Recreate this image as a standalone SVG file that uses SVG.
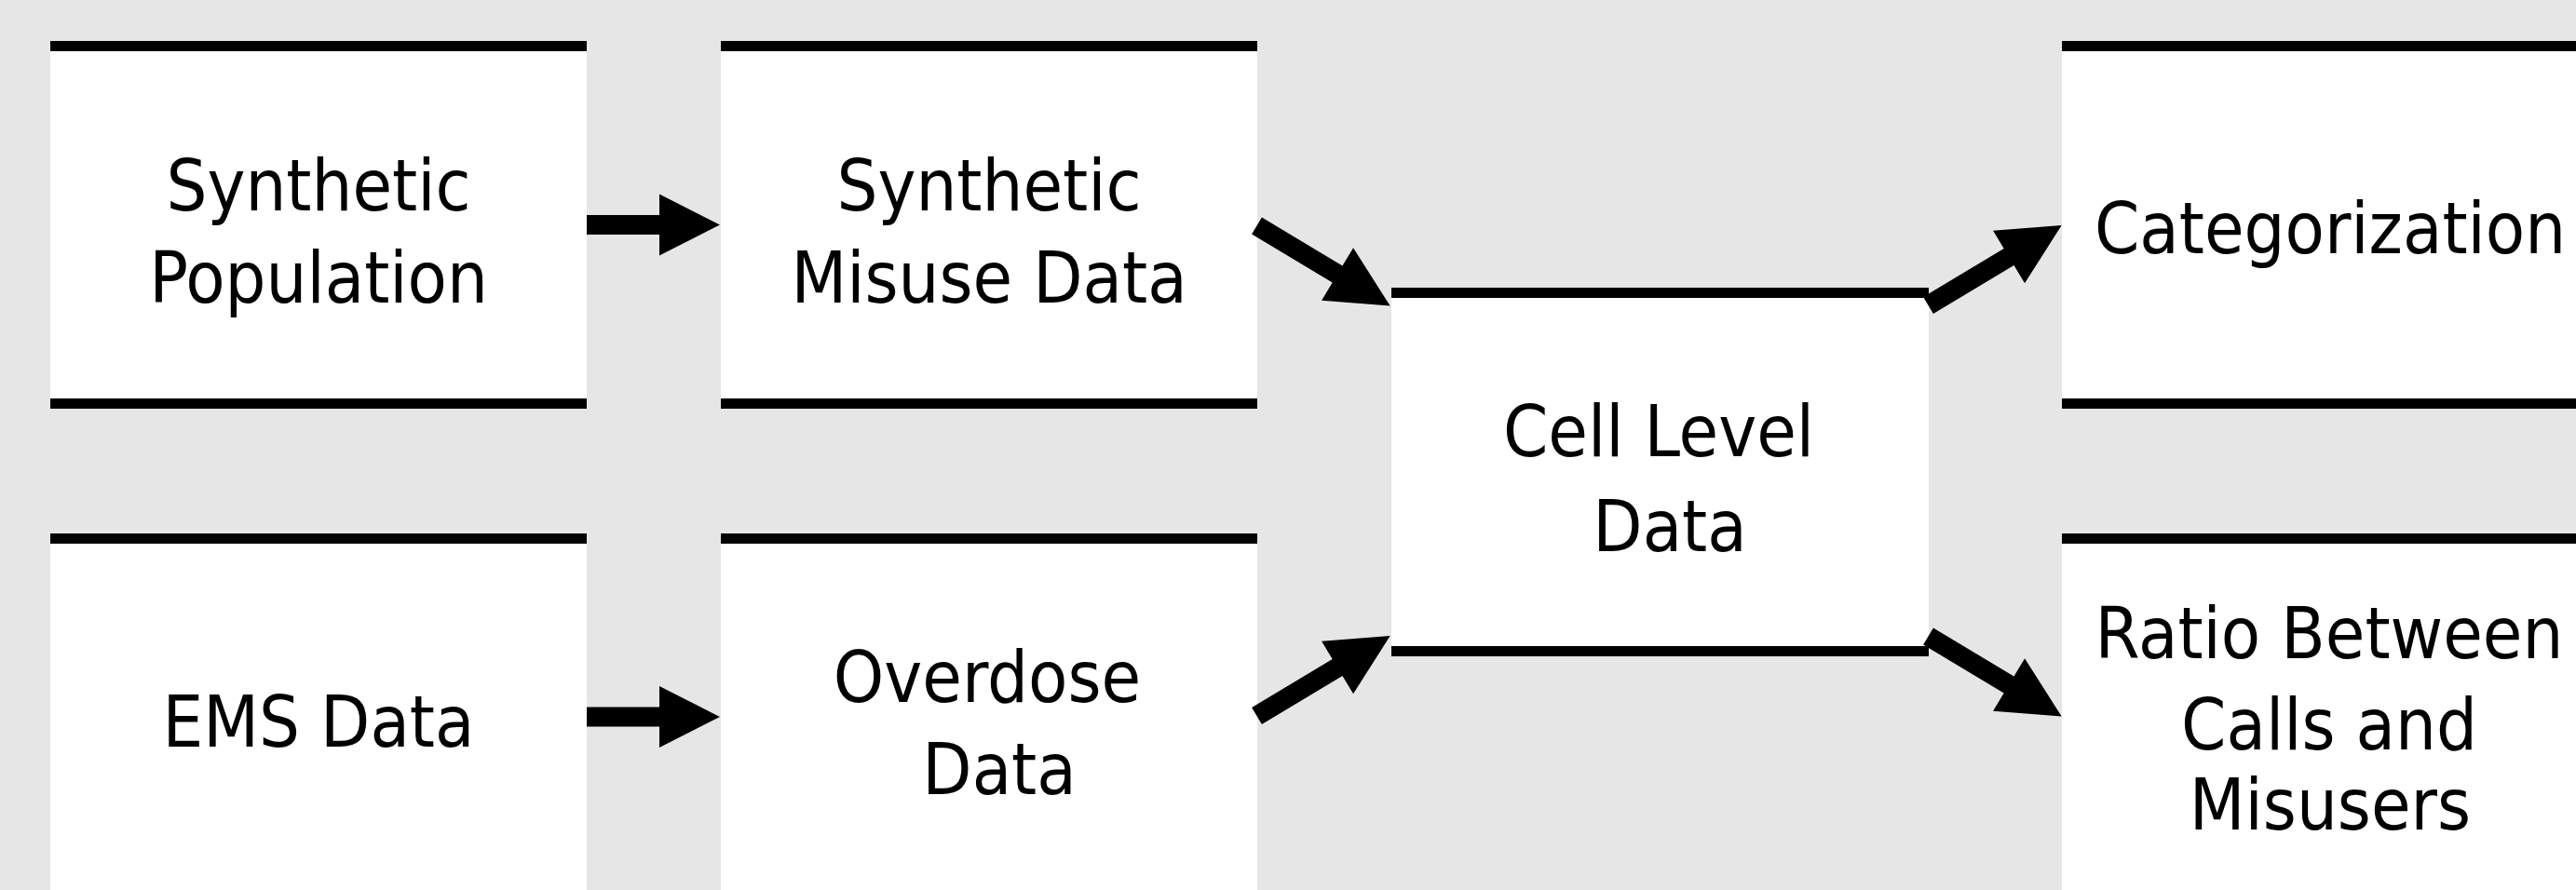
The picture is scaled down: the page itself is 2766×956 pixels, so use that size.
<svg xmlns="http://www.w3.org/2000/svg" width="2766" height="956" viewBox="0 0 2766 956">
  <defs>
    <style>
      .box { fill: #ffffff; }
      .bar { fill: #000000; }
      .label { font-family: "DejaVu Sans Condensed", "DejaVu Sans", sans-serif; font-stretch: condensed; font-size: 77px; fill: #000000; text-anchor: middle; }
      .arrow { fill: #000000; }
    </style>
    <polygon id="arrowH" points="0,-10.5 78,-10.5 78,-33 143,0 78,33 78,10.5 0,10.5"/>
    <polygon id="arrowD" points="0,-10.5 101,-10.5 101,-33 167,0 101,33 101,10.5 0,10.5"/>
  </defs>
  <rect x="0" y="0" width="2766" height="956" fill="#e6e6e6"/>

  <g id="node-synthetic-population">
    <rect class="box" x="54" y="44" width="576" height="395"/>
    <rect class="bar" x="54" y="44" width="576" height="11"/>
    <rect class="bar" x="54" y="428" width="576" height="11"/>
    <text class="label" x="342" y="226">Synthetic</text>
    <text class="label" x="342" y="325">Population</text>
  </g>

  <g id="node-synthetic-misuse-data">
    <rect class="box" x="774" y="44" width="576" height="395"/>
    <rect class="bar" x="774" y="44" width="576" height="11"/>
    <rect class="bar" x="774" y="428" width="576" height="11"/>
    <text class="label" x="1062" y="226">Synthetic</text>
    <text class="label" x="1062" y="325">Misuse Data</text>
  </g>

  <g id="node-cell-level-data">
    <rect class="box" x="1494" y="309" width="577" height="396"/>
    <rect class="bar" x="1494" y="309" width="577" height="11"/>
    <rect class="bar" x="1494" y="694" width="577" height="11"/>
    <text class="label" x="1781" y="490">Cell Level</text>
    <text class="label" x="1793" y="592">Data</text>
  </g>

  <g id="node-categorization">
    <rect class="box" x="2214" y="44" width="576" height="395"/>
    <rect class="bar" x="2214" y="44" width="576" height="11"/>
    <rect class="bar" x="2214" y="428" width="576" height="11"/>
    <text class="label" x="2502" y="272">Categorization</text>
  </g>

  <g id="node-ems-data">
    <rect class="box" x="54" y="573" width="576" height="395"/>
    <rect class="bar" x="54" y="573" width="576" height="11"/>
    <text class="label" x="342" y="802">EMS Data</text>
  </g>

  <g id="node-overdose-data">
    <rect class="box" x="774" y="573" width="576" height="395"/>
    <rect class="bar" x="774" y="573" width="576" height="11"/>
    <text class="label" x="1060" y="754">Overdose</text>
    <text class="label" x="1073" y="853">Data</text>
  </g>

  <g id="node-ratio">
    <rect class="box" x="2214" y="573" width="576" height="395"/>
    <rect class="bar" x="2214" y="573" width="576" height="11"/>
    <text class="label" x="2501" y="707">Ratio Between</text>
    <text class="label" x="2501" y="805">Calls and</text>
    <text class="label" x="2502" y="891">Misusers</text>
  </g>

  <g id="connectors">
    <use href="#arrowH" class="arrow" transform="translate(630,241.5)"/>
    <use href="#arrowH" class="arrow" transform="translate(630,770)"/>
    <use href="#arrowD" class="arrow" transform="translate(1349.5,242.5) rotate(31)"/>
    <use href="#arrowD" class="arrow" transform="translate(1349.5,769) rotate(-31)"/>
    <use href="#arrowD" class="arrow" transform="translate(2070.5,328) rotate(-31)"/>
    <use href="#arrowD" class="arrow" transform="translate(2070.5,683.5) rotate(31)"/>
  </g>
</svg>
